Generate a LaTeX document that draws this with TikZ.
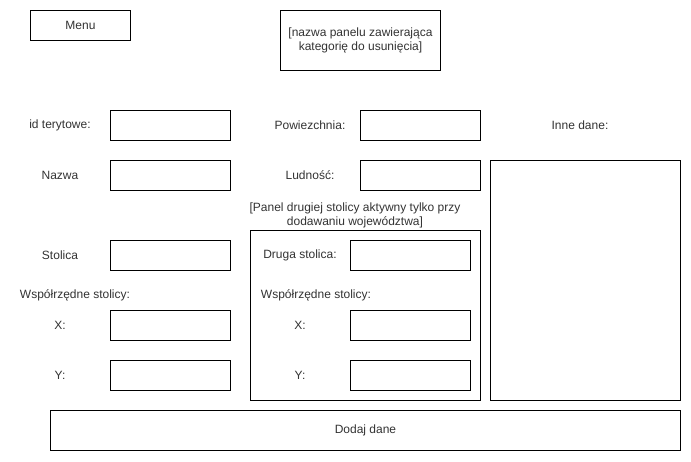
\documentclass[tikz,border=0pt]{standalone}
\usepackage{fontspec}
\setmainfont{Liberation Sans}
\begin{document}
\begin{tikzpicture}[x=1pt,y=-1pt,
  box/.style={draw=black,line width=1pt,inner sep=0pt,minimum width=120pt,minimum height=30pt,anchor=north west},
  lbl/.style={font=\fontsize{12}{14}\selectfont,text=black!80,inner sep=0pt},
  ]
\useasboundingbox (0,0) rectangle (691,461);
\fill[white] (0,0) rectangle (691,461);
% top
\node[box,minimum width=100pt] (menu) at (30,10) {};
\node[lbl] (menut) at (menu.center) {Menu};
\node[box,minimum width=160pt,minimum height=60pt] (title) at (280,10) {};
\node[lbl,align=center] (titlet) at (title.center) {[nazwa panelu zawierająca\\kategorię do usunięcia]};
% left column
\node[lbl] (lid) at (60,125) {id terytowe:};
\node[box] (bid) at (110,110) {};
\node[lbl] (lnazwa) at (60,175) {Nazwa};
\node[box] (bnazwa) at (110,160) {};
\node[lbl] (lstol) at (60,255) {Stolica};
\node[box] (bstol) at (110,240) {};
\node[lbl] (lwsp) at (75,295) {Współrzędne stolicy:};
\node[lbl] (lx) at (60,325) {X:};
\node[box] (bx) at (110,310) {};
\node[lbl] (ly) at (60,375) {Y:};
\node[box] (by) at (110,360) {};
% middle column
\node[lbl] (lpow) at (310,125) {Powiezchnia:};
\node[box] (bpow) at (360,110) {};
\node[lbl] (llud) at (310,175) {Ludność:};
\node[box] (blud) at (360,160) {};
\node[lbl,align=center] (lpanel) at (355,215) {[Panel drugiej stolicy aktywny tylko przy\\dodawaniu województwa]};
\node[box,minimum width=230pt,minimum height=170pt] (panel) at (250,230) {};
\node[lbl] (ldrug) at (300,255) {Druga stolica:};
\node[box] (bdrug) at (350,240) {};
\node[lbl] (lwsp2) at (316,295) {Współrzędne stolicy:};
\node[lbl] (lx2) at (300,325) {X:};
\node[box] (bx2) at (350,310) {};
\node[lbl] (ly2) at (300,375) {Y:};
\node[box] (by2) at (350,360) {};
% right column
\node[lbl] (linne) at (580,125) {Inne dane:};
\node[box,minimum width=190pt,minimum height=240pt] (binne) at (490,160) {};
% bottom
\node[box,minimum width=630pt,minimum height=40pt] (dodaj) at (50,410) {};
\node[lbl] (dodajt) at (dodaj.center) {Dodaj dane};
\end{tikzpicture}
\end{document}
